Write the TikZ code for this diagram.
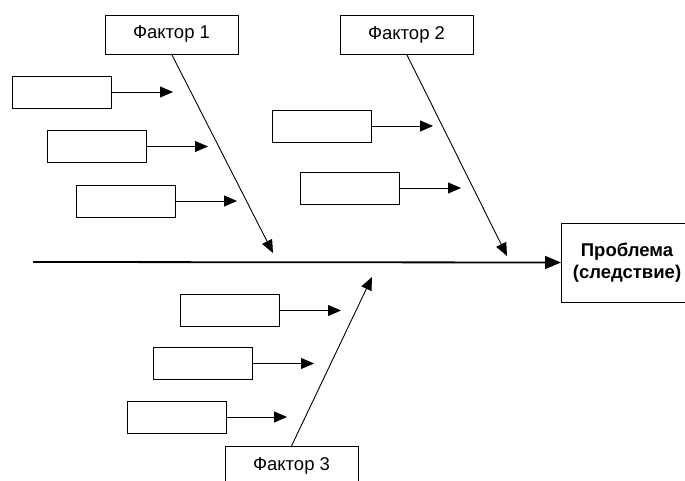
\documentclass[tikz,border=0pt]{standalone}
\usepackage{fontspec}
\setmainfont{Liberation Sans}
\usetikzlibrary{arrows.meta}
\begin{document}
\begin{tikzpicture}[x=1pt,y=-1pt,
  bigbox/.style={draw,line width=0.9pt,inner sep=0pt,outer sep=0pt,minimum width=133pt,minimum height=39pt,font=\fontsize{18.5}{22}\selectfont},
  smallbox/.style={draw,line width=0.9pt,inner sep=0pt,outer sep=0pt,minimum width=99pt,minimum height=32pt},
  cause/.style={line width=0.9pt,-{Triangle[length=13pt,width=11pt]}},
  spine/.style={line width=1.8pt,-{Triangle[length=16pt,width=13pt]}}]
\clip (0,0) rectangle (685,481);
\fill[white] (0,0) rectangle (685,481);
% factor boxes
\node[bigbox] (f1) at (171.5,34.5) {Фактор 1};
\node[bigbox] (f2) at (406.5,34.5) {Фактор 2};
\node[bigbox,anchor=north] (f3) at (291.5,446) {Фактор 3};
\node[bigbox,minimum width=132pt,minimum height=79pt,align=center,font=\bfseries\fontsize{18.5}{22}\selectfont] (p) at (627,262.5) {Проблема\\(следствие)};
% small boxes
\node[smallbox] (a) at (61.5,92) {};
\node[smallbox] (b) at (96.5,146.5) {};
\node[smallbox] (c) at (125.5,201) {};
\node[smallbox] (d) at (322,126) {};
\node[smallbox] (e) at (349.5,188) {};
\node[smallbox] (f) at (229.5,310.5) {};
\node[smallbox] (g) at (202.5,363.5) {};
\node[smallbox] (h) at (176.5,417) {};
% tips
\coordinate (ta) at (173,92);
\coordinate (tb) at (208,146.5);
\coordinate (tc) at (237,201);
\coordinate (td) at (433,126);
\coordinate (te) at (461,188);
\coordinate (tf) at (341,310.5);
\coordinate (tg) at (314,363.5);
\coordinate (th) at (287,417);
\coordinate (t1) at (273,253);
\coordinate (t2) at (507,256);
\coordinate (t3) at (372,277);
\coordinate (s0) at (33,262);
% connectors
\draw[cause] (a.east) -- (ta);
\draw[cause] (b.east) -- (tb);
\draw[cause] (c.east) -- (tc);
\draw[cause] (d.east) -- (td);
\draw[cause] (e.east) -- (te);
\draw[cause] (f.east) -- (tf);
\draw[cause] (g.east) -- (tg);
\draw[cause] (h.east) -- (th);
\draw[cause] (f1.south) -- (t1);
\draw[cause] (f2.south) -- (t2);
\draw[cause] (f3.north) -- (t3);
\draw[spine] (s0) -- (p.west);
\end{tikzpicture}
\end{document}
